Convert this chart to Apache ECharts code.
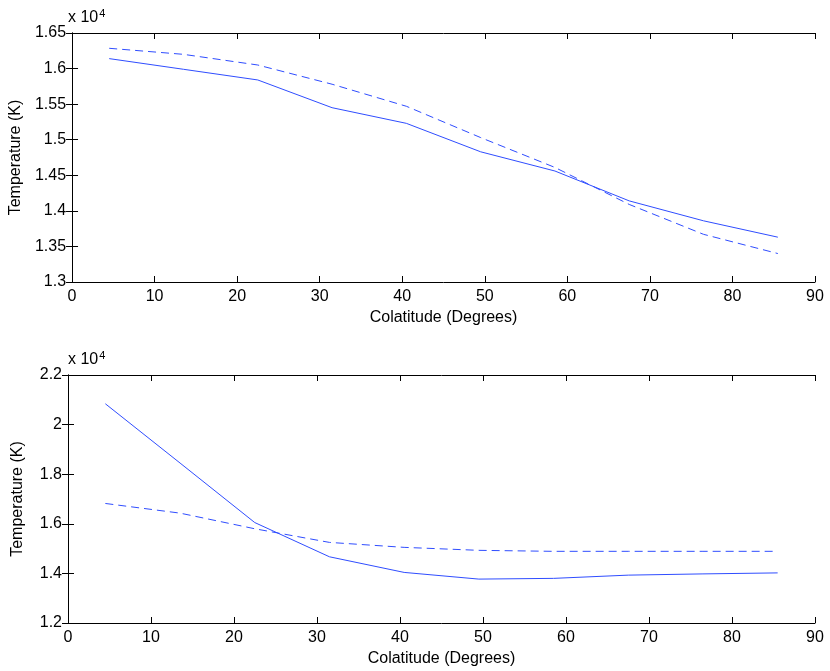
<!DOCTYPE html>
<html>
<head>
<meta charset="utf-8">
<script src="https://cdn.jsdelivr.net/npm/echarts@6/dist/echarts.min.js"></script>
<style>
  html, body { margin: 0; padding: 0; background: #fff; }
  #chart { width: 830px; height: 671px; }
</style>
</head>
<body>
<div id="chart"></div>
<script>
// colatitude of each sample (degrees)
const colatitude = [4.5, 13.5, 22.5, 31.5, 40.5, 49.5, 58.5, 67.5, 76.5, 85.5]

// temperatures in K
const topSolid = [16140, 15990, 15840, 15450, 15230, 14830, 14560, 14140, 13860, 13630]
const topDashed = [16285, 16200, 16050, 15780, 15470, 15030, 14610, 14090, 13670, 13400]
const bottomSolid = [20840, 18450, 16050, 14670, 14040, 13770, 13800, 13930, 13980, 14020]
const bottomDashed = [16820, 16430, 15800, 15250, 15050, 14930, 14890, 14890, 14890, 14890]

const font = 'Liberation Sans, Arial, Helvetica, sans-serif'
const fs = 16
const blue = '#2f4dff'
const ink = '#000'

const pairs = ys => colatitude.map((x, i) => [x, ys[i]])

const tickStyle = { inside: true, length: 6, lineStyle: { color: ink, width: 1 } }
const lineStyle = { lineStyle: { color: ink, width: 1 } }

function xAxes(gridIndex) {
    return [
        {
            gridIndex, type: 'value', min: 0, max: 90, interval: 10,
            name: 'Colatitude (Degrees)', nameLocation: 'middle', nameGap: 28,
            nameTextStyle: { fontFamily: font, fontSize: fs, color: ink },
            axisLine: lineStyle, axisTick: tickStyle, splitLine: { show: false },
            axisLabel: { fontFamily: font, fontSize: fs, color: ink, margin: 7 },
        },
        {
            gridIndex, type: 'value', position: 'top', min: 0, max: 90, interval: 10,
            axisLine: lineStyle, axisTick: tickStyle, splitLine: { show: false },
            axisLabel: { show: false },
        },
    ]
}

function yAxes(gridIndex, min, max, interval, fmt) {
    return [
        {
            gridIndex, type: 'value', min, max, interval,
            name: 'Temperature (K)', nameLocation: 'middle', nameGap: 42,
            nameTextStyle: { fontFamily: font, fontSize: fs, color: ink },
            axisLine: lineStyle, axisTick: tickStyle, splitLine: { show: false },
            axisLabel: { fontFamily: font, fontSize: fs, color: ink, margin: 6, formatter: fmt },
        },
        {
            gridIndex, type: 'value', position: 'right', min, max, interval,
            axisLine: lineStyle, axisTick: tickStyle, splitLine: { show: false },
            axisLabel: { show: false },
        },
    ]
}

function series(xi, yi, data, dashed) {
    return {
        type: 'line', xAxisIndex: xi, yAxisIndex: yi, data: pairs(data),
        showSymbol: false, symbol: 'none', animation: false,
        lineStyle: { color: blue, width: 1, type: dashed ? [8, 5] : 'solid' },
    }
}

const scaleText = (top) => ({
    type: 'text', left: 68, top,
    style: {
        text: '{a|x 10}{b|4}',
        rich: {
            a: { fontFamily: font, fontSize: fs, fill: ink },
            b: { fontFamily: font, fontSize: 11, fill: ink, verticalAlign: 'top', padding: [0, 0, 9, 1] },
        },
    },
})

const chart = echarts.init(document.getElementById('chart'), null, { renderer: 'canvas' })
chart.setOption({
    backgroundColor: '#fff',
    animation: false,
    grid: [
        { left: 68, right: 15, top: 33, height: 249 },
        { left: 68, right: 15, top: 375, height: 248 },
    ],
    xAxis: [...xAxes(0), ...xAxes(1)],
    yAxis: [
        ...yAxes(0, 13000, 16500, 500, v => +(v / 1e4).toFixed(2) + ''),
        ...yAxes(1, 12000, 22000, 2000, v => +(v / 1e4).toFixed(1) + ''),
    ],
    series: [
        series(0, 0, topSolid, false),
        series(0, 0, topDashed, true),
        series(2, 2, bottomSolid, false),
        series(2, 2, bottomDashed, true),
    ],
    graphic: [scaleText(8), scaleText(350)],
})
</script>
</body>
</html>
